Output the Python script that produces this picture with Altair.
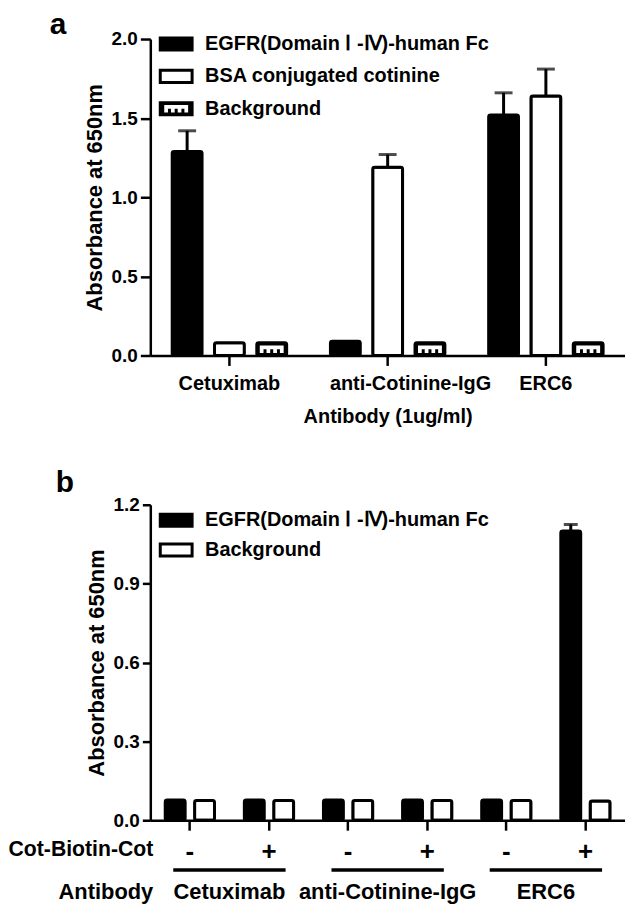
import altair as alt
import pandas as pd

FONT = "Liberation Sans"

# ---------------- data: panel a ----------------
antibodies_a = ["Cetuximab", "anti-Cotinine-IgG", "ERC6"]
series_a = ["EGFR(Domain Ⅰ -Ⅳ)-human Fc", "BSA conjugated cotinine", "Background"]
egfr_a = [1.29, 0.09, 1.52]
egfr_a_err = [0.13, 0.0, 0.14]
bsa_a = [0.08, 1.19, 1.64]
bsa_a_err = [0.0, 0.08, 0.17]
bg_a = [0.08, 0.08, 0.08]
bg_a_err = [0.0, 0.0, 0.0]

# ---------------- data: panel b ----------------
antibodies_b = ["Cetuximab", "anti-Cotinine-IgG", "ERC6"]
cot_b = ["-", "+"]
series_b = ["EGFR(Domain Ⅰ -Ⅳ)-human Fc", "Background"]
egfr_b = [0.077, 0.077, 0.077, 0.077, 0.077, 1.10]
egfr_b_err = [0.0, 0.0, 0.0, 0.0, 0.0, 0.025]
bg_b = [0.075, 0.075, 0.075, 0.075, 0.075, 0.073]
bg_b_err = [0.0, 0.0, 0.0, 0.0, 0.0, 0.0]
row_titles_b = ["Cot-Biotin-Cot", "Antibody"]

# ---------------- tables ----------------
rows = []
for s, vals, errs in zip(series_a, [egfr_a, bsa_a, bg_a], [egfr_a_err, bsa_a_err, bg_a_err]):
    for ab, v, e in zip(antibodies_a, vals, errs):
        rows.append({"antibody": ab, "sa": s, "va": v, "err": e})
df_a = pd.DataFrame(rows)
df_a["upper"] = df_a["va"] + df_a["err"]
df_a["mid"] = df_a["va"] / 2

keys_b = [f"{ab} {c}" for ab in antibodies_b for c in cot_b]
rows = []
for s, vals, errs in zip(series_b, [egfr_b, bg_b], [egfr_b_err, bg_b_err]):
    for k, v, e in zip(keys_b, vals, errs):
        rows.append({"key": k, "sb": s, "vb": v, "err": e})
df_b = pd.DataFrame(rows)
df_b["upper"] = df_b["vb"] + df_b["err"]
groups_b = pd.DataFrame({"antibody": antibodies_b, "start": keys_b[0::2], "end": keys_b[1::2]})

# ---------------- styling ----------------
W, HA, HB = 477, 318, 317
RECT = "M-1,-0.38L1,-0.38L1,0.38L-1,0.38Z"
PAT = ("M-0.8,-0.25L0.8,-0.25L0.8,0L-0.8,0Z "
       "M-0.8,0L-0.55,0L-0.55,0.25L-0.8,0.25Z "
       "M-0.35,0L-0.1,0L-0.1,0.25L-0.35,0.25Z "
       "M0.1,0L0.35,0L0.35,0.25L0.1,0.25Z "
       "M0.55,0L0.8,0L0.8,0.25L0.55,0.25Z")


def yaxis(values, tick):
    return alt.Axis(values=values, format=".1f", title="Absorbance at 650nm",
                    tickSize=tick, labelPadding=3, titlePadding=5,
                    labelFontSize=19, titleFontSize=22)


# ================= panel a =================
ax_a = alt.Axis(title="Antibody (1ug/ml)", labelAngle=0, tickSize=10, labelPadding=8,
                titlePadding=13, labelFontSize=20, titleFontSize=20,
                labelOffset={"condition": {"test": "datum.value == 'anti-Cotinine-IgG'", "value": 23},
                             "value": 0})
xa = alt.X("antibody:N", scale=alt.Scale(domain=antibodies_a, paddingInner=0, paddingOuter=0), axis=ax_a)
xoff_a = alt.XOffset("sa:N", scale=alt.Scale(domain=series_a, paddingInner=0.294, paddingOuter=0.5175))
ysc_a = alt.Scale(domain=[0, 2])
yax_a = yaxis([0, 0.5, 1.0, 1.5, 2.0], 10)
fill_a = alt.Fill("sa:N", scale=alt.Scale(domain=series_a, range=["black", "white", "black"]), legend=None)

base_a = alt.Chart(df_a)
bars_a = base_a.mark_bar(stroke="black", strokeWidth=3, cornerRadius=2).encode(
    x=xa, xOffset=xoff_a, y=alt.Y("va:Q", scale=ysc_a, axis=yax_a), fill=fill_a)
rule_a = base_a.transform_filter("datum.err > 0").mark_rule(color="black", strokeWidth=3).encode(
    x=xa, xOffset=xoff_a, y=alt.Y("va:Q", scale=ysc_a, axis=yax_a), y2="upper:Q")
cap_a = base_a.transform_filter("datum.err > 0").mark_tick(color="black", thickness=3, size=18).encode(
    x=xa, xOffset=xoff_a, y=alt.Y("upper:Q", scale=ysc_a, axis=yax_a))
pat_a = base_a.transform_filter(alt.datum.sa == "Background").mark_point(
    shape=PAT, size=900, filled=True, color="white", opacity=1, strokeWidth=0).encode(
    x=xa, xOffset=xoff_a, y=alt.Y("mid:Q", scale=ysc_a, axis=yax_a))

leg_a_df = pd.DataFrame({"sa": series_a})
ly_a = alt.Y("sa:N", scale=alt.Scale(domain=series_a, range=[5, 70], padding=0), axis=None)
leg_sym_a = alt.Chart(leg_a_df).mark_point(shape=RECT, size=1024, filled=True, stroke="black",
                                           strokeWidth=3, opacity=1).encode(x=alt.value(26), y=ly_a, fill=fill_a)
leg_pat_a = alt.Chart(leg_a_df).transform_filter(alt.datum.sa == "Background").mark_point(
    shape=PAT, size=900, filled=True, color="white", opacity=1, strokeWidth=0).encode(x=alt.value(26), y=ly_a)
leg_txt_a = alt.Chart(leg_a_df).mark_text(align="left", baseline="middle", fontSize=20, fontWeight="bold",
                                          color="black").encode(x=alt.value(55), y=ly_a, text="sa:N")
lbl_a = alt.Chart(pd.DataFrame({"t": ["a"]})).mark_text(
    align="left", baseline="alphabetic", fontSize=30, fontWeight="bold", color="black").encode(
    x=alt.value(-101), y=alt.value(-5), text="t:N")

panel_a = alt.layer(
    alt.layer(bars_a, rule_a, cap_a, pat_a),
    alt.layer(leg_sym_a, leg_pat_a, leg_txt_a),
    lbl_a,
).resolve_scale(y="independent").properties(width=W, height=HA)

# ================= panel b =================
ax_b = alt.Axis(title=None, labelAngle=0, labelExpr="split(datum.value, ' ')[1]", tickSize=10,
                labelPadding=8, labelFontSize=26)
xsc_b = alt.Scale(domain=keys_b, paddingInner=0, paddingOuter=0)
xb = alt.X("key:N", scale=xsc_b, axis=ax_b)
xoff_b = alt.XOffset("sb:N", scale=alt.Scale(domain=series_b, paddingInner=0.322, paddingOuter=0.508))
ysc_b = alt.Scale(domain=[0, 1.2])
yax_b = yaxis([0, 0.3, 0.6, 0.9, 1.2], 8)
fill_b = alt.Fill("sb:N", scale=alt.Scale(domain=series_b, range=["black", "white"]), legend=None)

base_b = alt.Chart(df_b)
bars_b = base_b.mark_bar(stroke="black", strokeWidth=3, cornerRadius=2).encode(
    x=xb, xOffset=xoff_b, y=alt.Y("vb:Q", scale=ysc_b, axis=yax_b), fill=fill_b)
rule_b = base_b.transform_filter("datum.err > 0").mark_rule(color="black", strokeWidth=3).encode(
    x=xb, xOffset=xoff_b, y=alt.Y("vb:Q", scale=ysc_b, axis=yax_b), y2="upper:Q")
cap_b = base_b.transform_filter("datum.err > 0").mark_tick(color="black", thickness=3, size=14).encode(
    x=xb, xOffset=xoff_b, y=alt.Y("upper:Q", scale=ysc_b, axis=yax_b))

grp_rule_b = alt.Chart(groups_b).mark_rule(color="black", strokeWidth=3.5).encode(
    x=alt.X("start:N", bandPosition=0.29, scale=xsc_b, axis=ax_b),
    x2=alt.X2("end", bandPosition=0.71),
    y=alt.value(367))
grp_txt_b = alt.Chart(groups_b).mark_text(fontSize=22, fontWeight="bold", baseline="middle", color="black").encode(
    x=alt.X("start:N", bandPosition=1, scale=xsc_b, axis=ax_b),
    y=alt.value(389), text="antibody:N")
row1_b = alt.Chart(pd.DataFrame({"t": row_titles_b[:1]})).mark_text(
    align="right", baseline="middle", fontSize=21.3, fontWeight="bold", color="black").encode(
    x=alt.value(3), y=alt.value(347), text="t:N")
row2_b = alt.Chart(pd.DataFrame({"t": row_titles_b[1:]})).mark_text(
    align="right", baseline="middle", fontSize=22, fontWeight="bold", color="black").encode(
    x=alt.value(3), y=alt.value(389), text="t:N")

leg_b_df = pd.DataFrame({"sb": series_b})
ly_b = alt.Y("sb:N", scale=alt.Scale(domain=series_b, range=[15.5, 45.5], padding=0), axis=None)
leg_sym_b = alt.Chart(leg_b_df).mark_point(shape=RECT, size=1024, filled=True, stroke="black",
                                           strokeWidth=3, opacity=1).encode(x=alt.value(26), y=ly_b, fill=fill_b)
leg_txt_b = alt.Chart(leg_b_df).mark_text(align="left", baseline="middle", fontSize=20, fontWeight="bold",
                                          color="black").encode(x=alt.value(55), y=ly_b, text="sb:N")
lbl_b = alt.Chart(pd.DataFrame({"t": ["b"]})).mark_text(
    align="left", baseline="alphabetic", fontSize=30, fontWeight="bold", color="black").encode(
    x=alt.value(-95), y=alt.value(-13), text="t:N")

panel_b = alt.layer(
    alt.layer(bars_b, rule_b, cap_b, grp_rule_b, grp_txt_b),
    alt.layer(leg_sym_b, leg_txt_b),
    row1_b, row2_b, lbl_b,
).resolve_scale(y="independent").properties(width=W, height=HB)

chart = alt.vconcat(panel_a, panel_b, spacing=150, bounds="flush").resolve_scale(
    fill="independent", xOffset="independent"
).properties(
    padding={"left": 0, "top": 0, "right": 0, "bottom": 0}
).configure(font=FONT).configure_view(stroke=None).configure_axis(
    domainColor="black", domainWidth=2.5, tickColor="black", tickWidth=2.5,
    labelColor="black", titleColor="black", labelFont=FONT, titleFont=FONT,
    labelFontWeight="bold", titleFontWeight="bold", grid=False)

chart.save("out.html", embed_options={"renderer": "svg", "actions": False})
